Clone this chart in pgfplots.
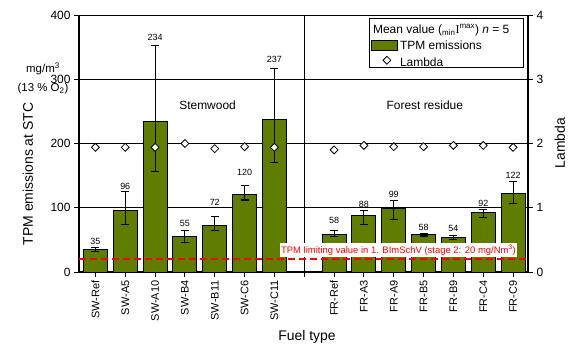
\documentclass[border=0pt]{standalone}
\usepackage{fontspec}
\setmainfont{Liberation Sans}
\newfontfamily\serifI{Liberation Serif}
\usepackage{pgfplots}
\usepackage{pgfplotstable}
\pgfplotsset{compat=1.18}
\definecolor{barolive}{RGB}{96,125,0}
\definecolor{limitred}{RGB}{255,0,0}

% TPM emissions: mean, upper and lower deviation (min/max of n = 5)
\pgfplotstableread{
x y plus minus
0 35 3 3
1 96 29 22
2 234 119 77
3 55 9 9
4 72 14 8
5 120 15 8
6 237 80 67
8 58 6 3
9 88 8 14
10 99 12.5 17
11 58 2 2
12 54 3 4
13 92 5 7
14 122 19 16
}\tpm

% Combustion air ratio
\pgfplotstableread{
x lambda
0 1.94
1 1.94
2 1.94
3 2.00
4 1.92
5 1.95
6 1.94
8 1.90
9 1.97
10 1.95
11 1.95
12 1.97
13 1.97
14 1.94
}\lambdatab

\pgfplotsset{
  common/.style={
    scale only axis,
    width=449bp, height=257bp,
    at={(0,0)}, anchor=south west,
    xmin=-0.55, xmax=14.5,
    tick align=outside,
    major tick length=5bp,
    tick style={black, line width=1pt},
    /pgf/number format/assume math mode=true,
    ticklabel style={font=\fontsize{12}{14}\selectfont},
  },
}

\begin{document}
\begin{tikzpicture}
\path[use as bounding box] (-79bp,-74bp) rectangle (501bp,272bp);

\begin{axis}[
  common,
  ymin=0, ymax=400,
  ytick={0,100,200,300,400},
  axis x line*=bottom,
  axis y line*=left,
  axis line style={line width=1.3pt},
  ymajorgrids,
  grid style={black, line width=0.9pt},
  xtick={0,1,2,3,4,5,6,8,9,10,11,12,13,14},
  xticklabels={SW-Ref,SW-A5,SW-A10,SW-B4,SW-B11,SW-C6,SW-C11,
               FR-Ref,FR-A3,FR-A9,FR-B5,FR-B9,FR-C4,FR-C9},
  xticklabel style={rotate=90, anchor=east, font=\fontsize{11}{13}\selectfont},
  extra x ticks={7},
  extra x tick labels={},
  extra x tick style={grid=major, major grid style={black, line width=1.3pt}},
  legend cell align=left,
  legend style={
    at={(0.6459,0.975)}, anchor=north west,
    draw=none, fill=none,
    font=\fontsize{12}{14}\selectfont,
    row sep=2.5pt, inner xsep=2pt, inner ysep=1pt,
  },
]
% legend heading
\addlegendimage{empty legend}
\addlegendentry{\hspace{-27bp}Mean value (\textsubscript{min}{\serifI I}\textsuperscript{max}) \textit{n} = 5}

\addplot[
  ybar, bar width=24bp,
  draw=black, line width=1pt, fill=barolive,
  legend image code/.code={
    \draw[fill=barolive, draw=black, line width=0.9pt] (0bp,-4.5bp) rectangle (26bp,6bp);},
  error bars/.cd, y dir=both, y explicit,
  error bar style={black, line width=1.1pt},
  error mark options={rotate=90, mark size=4bp, line width=1.1pt, black},
] table[x=x, y=y, y error plus=plus, y error minus=minus] {\tpm};
\addlegendentry{TPM emissions}

\addlegendimage{legend image code/.code={
    \node[draw=black, fill=white, line width=0.8pt, inner sep=0pt,
          minimum size=5.6bp, rotate=45] at (13bp,0.5bp) {};}}
\addlegendentry{Lambda}

% emission limit of the 1. BImSchV, stage 2
\addplot[limitred, line width=2.2pt, dash pattern=on 7bp off 4bp, forget plot]
  coordinates {(-0.55,20) (14.5,20)};
\node[anchor=east, fill=white, inner sep=1.5pt, text=limitred,
      font=\fontsize{9.5}{11}\selectfont]
  at (axis cs:14.15,34) {TPM limiting value in 1. BImSchV (stage 2: 20 mg/Nm\textsuperscript{3})};

% value labels
\begin{scope}[font=\fontsize{9}{10}\selectfont]
\node at (axis cs:0,48) {35};
\node at (axis cs:1,133) {96};
\node at (axis cs:2,365) {234};
\node at (axis cs:3,75) {55};
\node at (axis cs:4,109) {72};
\node at (axis cs:5,155) {120};
\node at (axis cs:6,331) {237};
\node at (axis cs:8,80) {58};
\node at (axis cs:9,105) {88};
\node at (axis cs:10,120) {99};
\node at (axis cs:11,69) {58};
\node at (axis cs:12,67) {54};
\node at (axis cs:13,107) {92};
\node at (axis cs:14,150) {122};
\end{scope}

\node[font=\fontsize{12}{14}\selectfont] at (axis cs:3.76,260) {Stemwood};
\node[font=\fontsize{12}{14}\selectfont] at (axis cs:11.04,260) {Forest residue};

% legend frame
\draw[black, line width=1pt, fill=white]
  (rel axis cs:0.6459,0.794) rectangle (rel axis cs:0.9889,0.986);
\end{axis}

\begin{axis}[
  common,
  ymin=0, ymax=4,
  ytick={0,1,2,3,4},
  axis y line*=right,
  axis x line=none,
  axis line style={line width=1.3pt},
]
\addplot[only marks, mark=square*, mark size=2.8bp,
  mark options={rotate=45, fill=white, draw=black, line width=0.8pt}]
  table[x=x, y=lambda] {\lambdatab};
\end{axis}

% axis titles
\node[rotate=90, font=\fontsize{14}{16}\selectfont] at (-51bp,98bp) {TPM emissions at STC};
\node[inner sep=0pt, font=\fontsize{11.5}{14}\selectfont] at (-36bp,203bp) {mg/m\textsuperscript{3}};
\node[inner sep=0pt, font=\fontsize{11.5}{14}\selectfont] at (-36bp,183bp) {(13 \% O\textsubscript{2})};
\node[rotate=90, font=\fontsize{14}{16}\selectfont] at (481bp,129bp) {Lambda};
\node[font=\fontsize{14}{16}\selectfont] at (228bp,-65bp) {Fuel type};
\end{tikzpicture}
\end{document}
